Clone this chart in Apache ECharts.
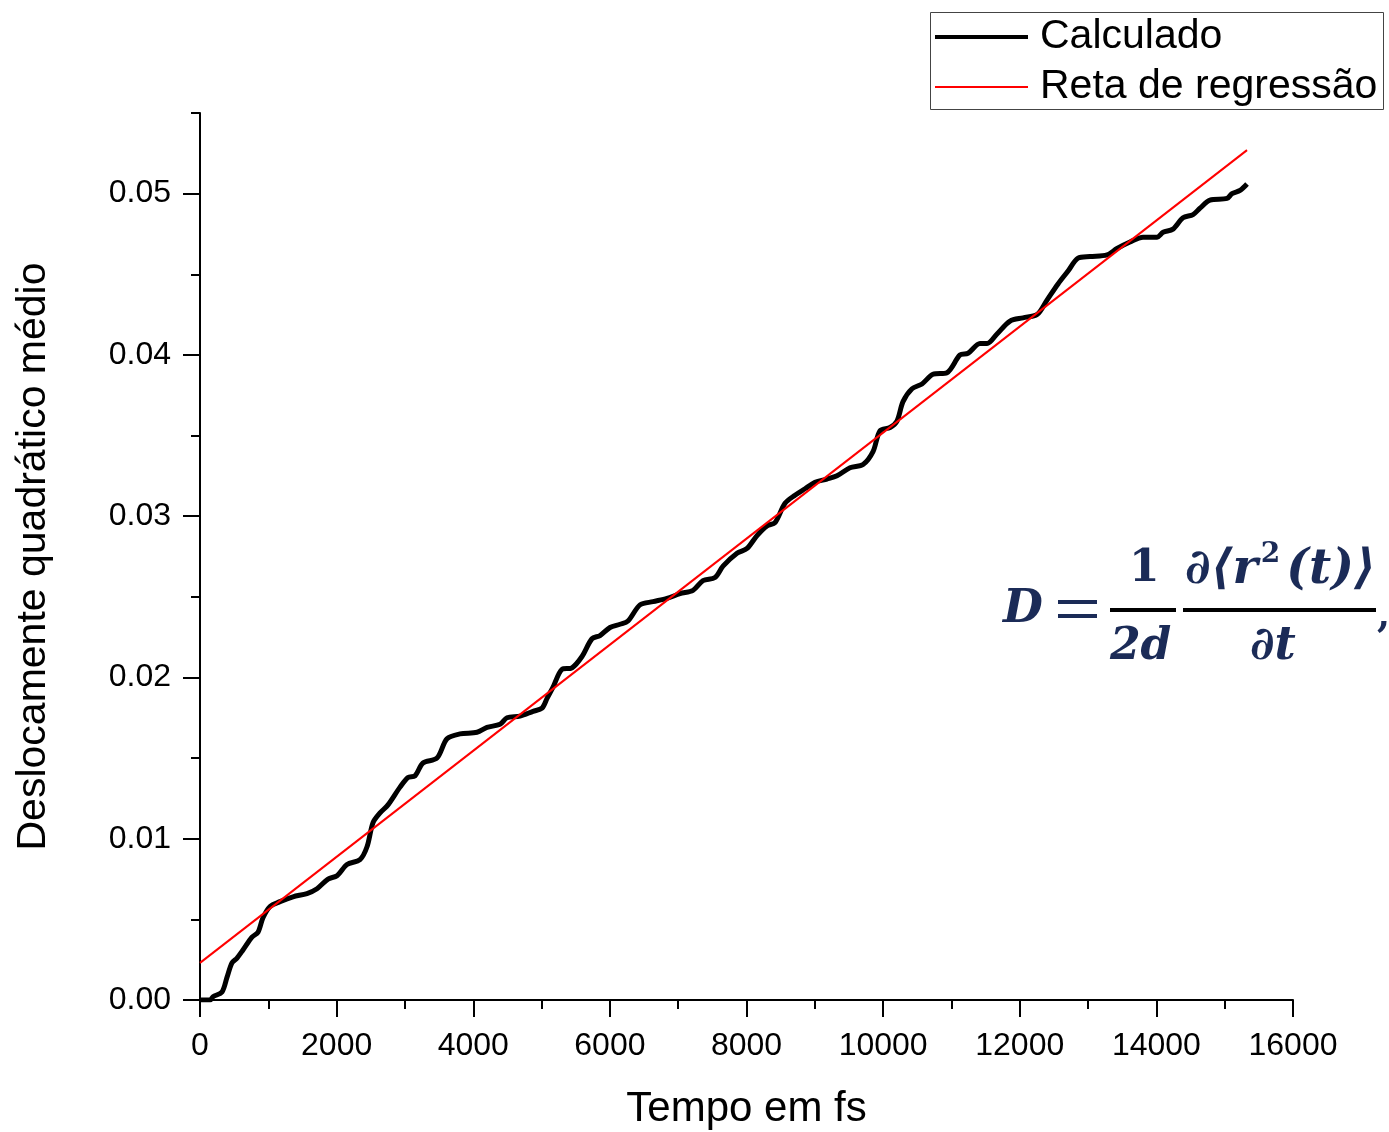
<!DOCTYPE html>
<html>
<head>
<meta charset="utf-8">
<script src="https://cdn.jsdelivr.net/npm/echarts@6/dist/echarts.min.js"></script>
<style>
  html, body { margin: 0; padding: 0; background: #fff; }
  #chart { width: 1389px; height: 1132px; }
</style>
</head>
<body>
<div id="chart"></div>
<script>
// tempo (fs) e deslocamento quadratico medio
const tempo = [0, 150, 190, 322, 395, 468, 542, 629, 761, 849, 922, 1025, 1171, 1361, 1566, 1713, 1874, 2006, 2152, 2342,
  2445, 2533, 2635, 2752, 2928, 3045, 3147, 3264, 3469, 3616, 3806, 4055, 4201, 4392, 4494, 4684, 4875, 5007, 5080, 5168,
  5299, 5446, 5592, 5738, 5856, 6002, 6149, 6265, 6441, 6632, 6836, 7027, 7217, 7363, 7539, 7656, 7861, 8008, 8154, 8300,
  8417, 8564, 8710, 8857, 9003, 9179, 9325, 9515, 9706, 9852, 9955, 10101, 10203, 10291, 10423, 10569, 10730, 10935, 11126, 11243,
  11418, 11521, 11667, 11858, 12048, 12253, 12399, 12560, 12707, 12853, 13029, 13278, 13424, 13614, 13805, 14010, 14098, 14243, 14390, 14537,
  14639, 14785, 15034, 15107, 15225, 15327]
const calculado = [0, 0, 0.0002, 0.0005, 0.0014, 0.0023, 0.0026, 0.0031, 0.0039, 0.0042, 0.0051, 0.0058, 0.0061, 0.0064, 0.0066, 0.0069, 0.0075, 0.0077, 0.0084, 0.0087,
  0.0095, 0.0110, 0.0116, 0.0121, 0.0132, 0.0138, 0.0139, 0.0147, 0.0150, 0.0162, 0.0165, 0.0166, 0.0169, 0.0171, 0.0175, 0.0176, 0.0179, 0.0181, 0.0187, 0.0194,
  0.0205, 0.0206, 0.0213, 0.0224, 0.0226, 0.0231, 0.0233, 0.0235, 0.0245, 0.0247, 0.0249, 0.0252, 0.0254, 0.0260, 0.0262, 0.0269, 0.0277, 0.0280, 0.0288, 0.0294,
  0.0296, 0.0308, 0.0313, 0.0317, 0.0321, 0.0323, 0.0325, 0.0330, 0.0332, 0.0340, 0.0353, 0.0355, 0.0359, 0.0371, 0.0379, 0.0382, 0.0388, 0.0389, 0.0400, 0.0401,
  0.0407, 0.0407, 0.0413, 0.0421, 0.0423, 0.0425, 0.0434, 0.0444, 0.0452, 0.0460, 0.0461, 0.0462, 0.0466, 0.0470, 0.0473, 0.0473, 0.0476, 0.0478, 0.0485, 0.0487,
  0.0491, 0.0496, 0.0497, 0.0500, 0.0502, 0.0506]

// reta de regressao (extremos)
const retaX = [0, 15327]
const retaY = [0.0023, 0.0527]

const yTickLabels = [0, 0.01, 0.02, 0.03, 0.04, 0.05]
const legendNames = ['Calculado', 'Reta de regressão']
const legendColors = ['#000', '#ff0000']

const FONT = "'Liberation Sans', Arial, sans-serif"
const MATH = "'DejaVu Serif', serif"
const MATH_COLOR = '#1b2b57'

const chart = echarts.init(document.getElementById('chart'))

// legenda desenhada a mao (caixa com linhas)
const legendGraphic = [
  { type: 'rect', shape: { x: 930.5, y: 12.5, width: 453, height: 97 }, style: { fill: '#fff', stroke: '#444', lineWidth: 1 }, z: 10 }
]
legendNames.forEach((name, i) => {
  const y = 37 + i * 50
  legendGraphic.push({ type: 'line', shape: { x1: 935, y1: y, x2: 1028, y2: y }, style: { stroke: legendColors[i], lineWidth: i === 0 ? 4 : 2 }, z: 11 })
  legendGraphic.push({ type: 'text', x: 1040, y: y, style: { text: name, font: `41px ${FONT}`, fill: '#000', verticalAlign: 'middle' }, z: 11 })
})

const option = {
  backgroundColor: '#fff',
  animation: false,
  grid: { left: 200, right: 96, top: 113, bottom: 132, outerBoundsMode: 'none', containLabel: false },
  xAxis: {
    type: 'value',
    min: 0,
    max: 16000,
    interval: 2000,
    name: 'Tempo em fs',
    nameLocation: 'middle',
    nameGap: 88,
    nameTextStyle: { fontFamily: FONT, fontSize: 42, color: '#000' },
    axisLine: { lineStyle: { color: '#000', width: 2 } },
    axisTick: { inside: false, length: 17, lineStyle: { color: '#000', width: 2 } },
    minorTick: { show: true, splitNumber: 2, length: 9, lineStyle: { color: '#000', width: 2 } },
    axisLabel: { fontFamily: FONT, fontSize: 32, color: '#000', margin: 30, formatter: v => String(v) },
    splitLine: { show: false }
  },
  yAxis: [
    {
      type: 'value',
      min: 0,
      max: 0.055,
      interval: 0.005,
      name: 'Deslocamente quadrático médio',
      nameLocation: 'middle',
      nameGap: 146,
      nameTextStyle: { fontFamily: FONT, fontSize: 41, color: '#000' },
      axisLine: { show: true, lineStyle: { color: '#000', width: 2 } },
      axisTick: { length: 9, lineStyle: { color: '#000', width: 2 } },
      axisLabel: {
        customValues: yTickLabels,
        fontFamily: FONT, fontSize: 32, color: '#000', margin: 29,
        formatter: v => v.toFixed(2)
      },
      splitLine: { show: false }
    },
    {
      type: 'value',
      min: 0,
      max: 0.055,
      position: 'left',
      axisLine: { show: false },
      axisTick: { show: true, customValues: yTickLabels, length: 17, lineStyle: { color: '#000', width: 2 } },
      axisLabel: { show: false },
      splitLine: { show: false }
    }
  ],
  series: [
    {
      name: legendNames[0],
      type: 'line',
      data: tempo.map((t, i) => [t, calculado[i]]),
      showSymbol: false,
      symbol: 'none',
      smooth: 0.3,
      lineStyle: { color: legendColors[0], width: 5 },
      z: 2
    },
    {
      name: legendNames[1],
      type: 'line',
      data: retaX.map((t, i) => [t, retaY[i]]),
      showSymbol: false,
      symbol: 'none',
      lineStyle: { color: legendColors[1], width: 2 },
      z: 3
    }
  ],
  graphic: legendGraphic.concat([
    { type: 'text', left: 1003, top: 587, style: { text: 'D', font: `italic bold 46px ${MATH}`, fill: MATH_COLOR } },
    { type: 'rect', shape: { x: 1058, y: 600, width: 39, height: 4 }, style: { fill: MATH_COLOR } },
    { type: 'rect', shape: { x: 1058, y: 614, width: 39, height: 4 }, style: { fill: MATH_COLOR } },
    { type: 'text', left: 1129, top: 548, style: { text: '1', font: `bold 44px ${MATH}`, fill: MATH_COLOR } },
    { type: 'rect', shape: { x: 1110, y: 608, width: 66, height: 4 }, style: { fill: '#000' } },
    { type: 'text', left: 1110, top: 626, style: { text: '2d', font: `italic bold 44px ${MATH}`, fill: MATH_COLOR } },
    {
      type: 'text', left: 1185, top: 541,
      style: {
        text: '{n|∂⟨r}{s|2}{n|(t)⟩}',
        fill: MATH_COLOR,
        rich: {
          n: { font: `italic bold 48px ${MATH}`, fill: MATH_COLOR, lineHeight: 60 },
          s: { font: `bold 28px ${MATH}`, fill: MATH_COLOR, verticalAlign: 'top', lineHeight: 60, padding: [0, 6, 0, 3] }
        }
      }
    },
    { type: 'rect', shape: { x: 1183, y: 608, width: 193, height: 4 }, style: { fill: '#000' } },
    { type: 'text', left: 1250, top: 624, style: { text: '∂t', font: `italic bold 46px ${MATH}`, fill: MATH_COLOR } },
    { type: 'text', left: 1377, top: 598, style: { text: ',', font: `bold 38px ${MATH}`, fill: MATH_COLOR } }
  ])
}

chart.setOption(option)
</script>
</body>
</html>
